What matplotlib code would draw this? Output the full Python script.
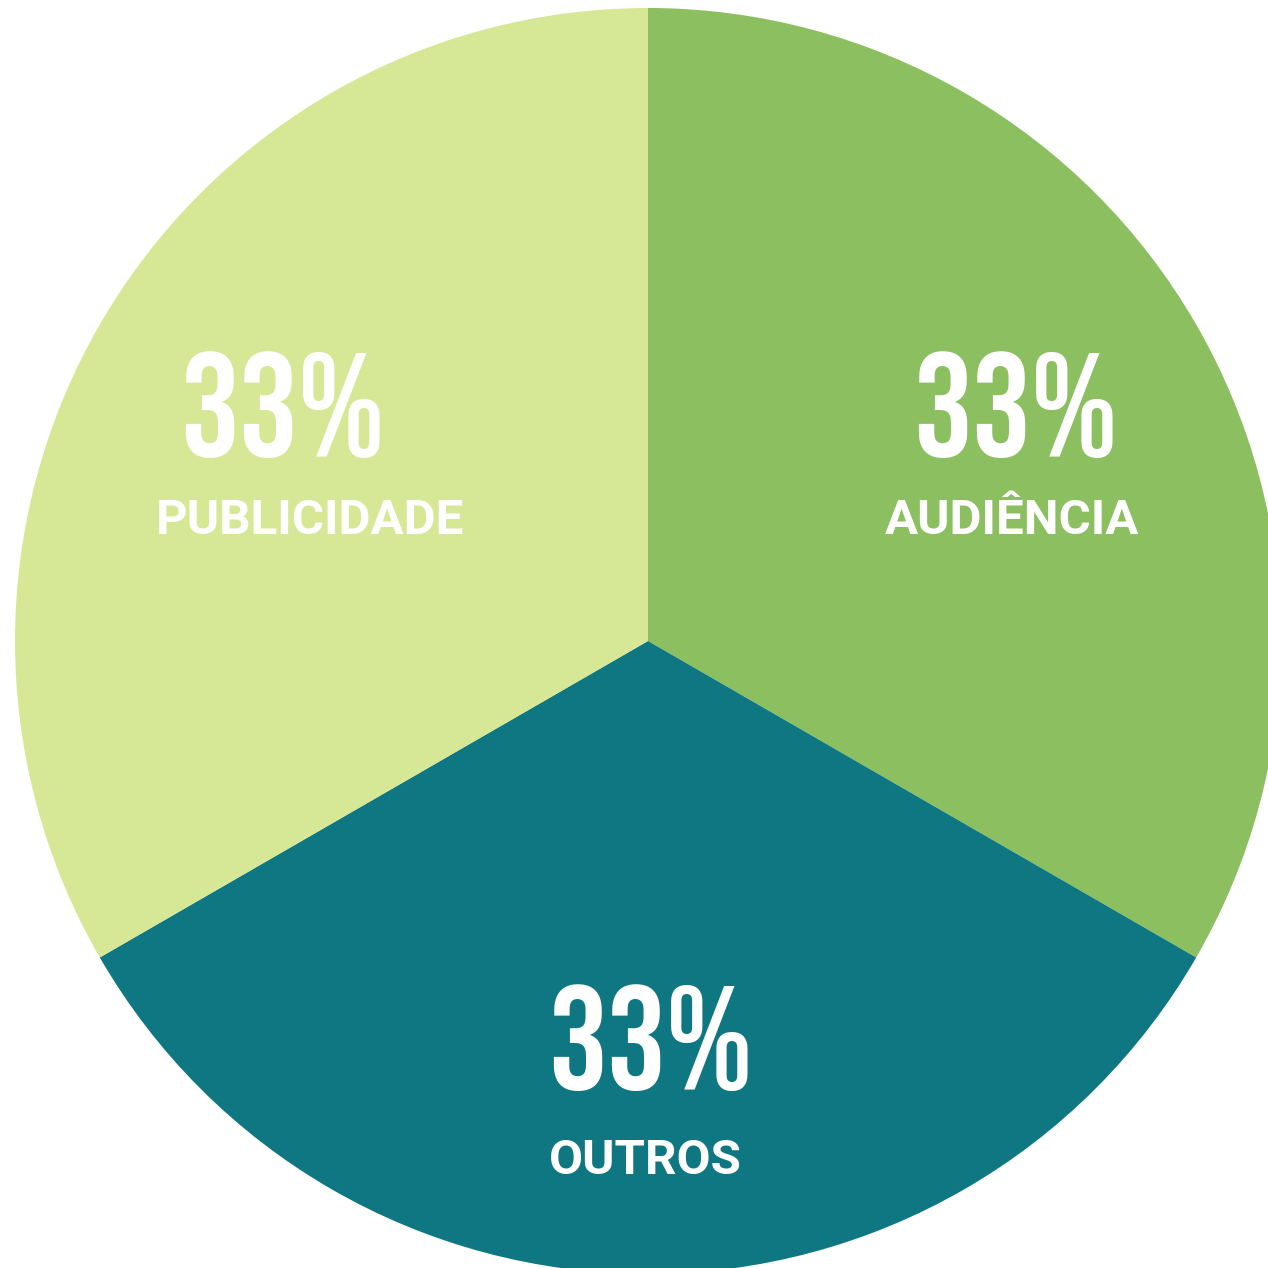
import matplotlib
matplotlib.use("Agg")
import matplotlib.pyplot as plt
from matplotlib import font_manager

# data
categories = ["AUDIÊNCIA", "OUTROS", "PUBLICIDADE"]
values = [33, 33, 33]
colors = ["#8cbf60", "#0e7782", "#d6e895"]

# pick a condensed face for the big numbers if one is installed
names = {(f.name, f.stretch) for f in font_manager.fontManager.ttflist}
num_font = dict(family="DejaVu Sans", fontsize=92)
for fam in ["Bebas Neue", "Oswald", "Roboto Condensed", "Liberation Sans Narrow", "Open Sans Condensed"]:
    if any(n == fam for n, s in names):
        num_font = dict(family=fam, fontsize=106)
        break
else:
    if any(n == "DejaVu Sans" and s in ("condensed", 500, "semi-condensed") for n, s in names):
        num_font = dict(family="DejaVu Sans", fontstretch="condensed", fontsize=100)

fig = plt.figure(figsize=(12.68, 12.68), dpi=100)
ax = fig.add_axes([0, 0, 1, 1])

cx, cy, r = 648, 627, 633
wedges, _ = ax.pie(values, colors=colors, startangle=90, counterclock=False,
                   center=(cx, cy), radius=r, frame=True)
ax.set_xlim(0, 1268)
ax.set_ylim(0, 1268)
ax.set_aspect("equal")
ax.axis("off")

# label positions (pixels from top-left)
num_pos = [(1015, 405), (650, 1038), (282, 405)]
lab_pos = [(1012, 521), (645, 1161), (310, 521)]

for cat, v, (nx, ny), (lx, ly) in zip(categories, values, num_pos, lab_pos):
    ax.text(nx, 1268 - ny, f"{v}%", color="white", ha="center", va="center",
            fontweight="bold", **num_font)
    ax.text(lx, 1268 - ly, cat, color="white", ha="center", va="center",
            family="Roboto", fontweight="bold", fontsize=35.5)

fig.savefig("out.png", dpi=100)
